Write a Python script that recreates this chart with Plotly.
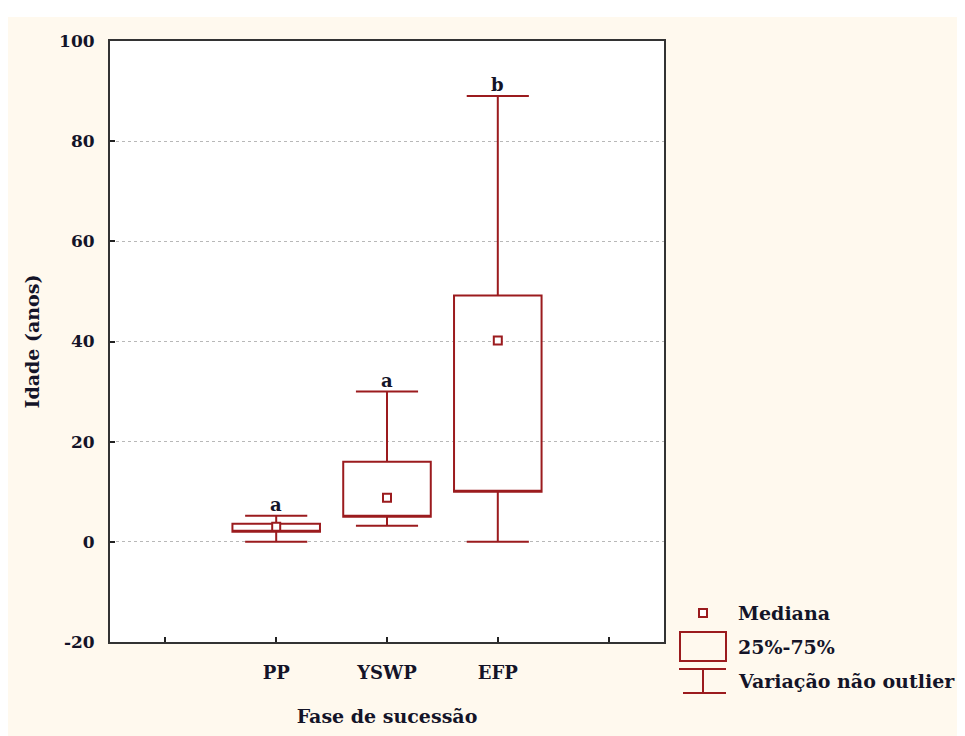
import plotly.graph_objects as go

# ---- data ----
categories = ["PP", "YSWP", "EFP"]
q1_vals = [2.0, 5.0, 10.0]
median_vals = [3.0, 8.8, 40.2]
q3_vals = [3.6, 16.0, 49.2]
lower_vals = [0.0, 3.2, 0.0]
upper_vals = [5.2, 30.0, 89.0]
group_letters = ["a", "a", "b"]
y_ticks = [-20, 0, 20, 40, 60, 80, 100]
y_tick_labels = ["-20", "0", "20", "40", "60", "80", "100"]

RED = "#9B1B1E"
FONT = "DejaVu Serif"
TXT = "#141428"

W, H = 965, 736
OFF = 8  # page body margin offset
# plot area in screen pixels: left 110, right 664, top 41, bottom 642
ML, MT = 110 - OFF, 41 - OFF
MR, MB = W - (664 - OFF), H - (642 - OFF)
PW, PH = W - ML - MR, H - MT - MB

def px(x):
    return (x - OFF - ML) / PW

def py(y):
    return (H - MB - (y - OFF)) / PH

xpos = [i + 1 for i in range(len(categories))]

fig = go.Figure()

# boxes (median line hidden on the q1 edge; median drawn as square marker)
fig.add_trace(go.Box(
    x=xpos, q1=q1_vals, median=q1_vals, q3=q3_vals,
    lowerfence=lower_vals, upperfence=upper_vals,
    width=0.79, whiskerwidth=0.71,
    line=dict(color=RED, width=2), fillcolor="rgba(255,255,255,0)",
    boxpoints=False, showlegend=False, hoverinfo="skip",
))

fig.add_trace(go.Scatter(
    x=xpos, y=median_vals, mode="markers",
    marker=dict(symbol="square", size=8, color="white",
                line=dict(color=RED, width=2)),
    showlegend=False, hoverinfo="skip",
))

# group letters
for xv, yv, t in zip(xpos, upper_vals, group_letters):
    fig.add_annotation(x=xv, y=yv, text=t, showarrow=False, yanchor="bottom",
                       yshift=-1, font=dict(family=FONT, size=18, color=TXT, weight="bold"))

shapes = []
# white strip at the top of the page
shapes.append(dict(type="rect", xref="paper", yref="paper", x0=px(0), x1=px(W + 20),
                   y0=py(17), y1=py(0), fillcolor="white", line=dict(width=0), layer="below"))

# legend glyphs
shapes.append(dict(type="rect", xref="paper", yref="paper", x0=px(699), x1=px(707),
                   y0=py(617), y1=py(609), line=dict(color=RED, width=2), fillcolor="white"))
shapes.append(dict(type="rect", xref="paper", yref="paper", x0=px(680), x1=px(726),
                   y0=py(661), y1=py(632), line=dict(color=RED, width=2), fillcolor="rgba(0,0,0,0)"))
for (x0, y0, x1, y1) in [(679, 669, 726, 669), (703, 669, 703, 693), (683, 693, 726, 693)]:
    shapes.append(dict(type="line", xref="paper", yref="paper", x0=px(x0), x1=px(x1),
                       y0=py(y0), y1=py(y1), line=dict(color=RED, width=2)))

legend_texts = [("Mediana", 613), ("25%-75%", 647), ("Variação não outlier", 681)]
for t, yy in legend_texts:
    fig.add_annotation(xref="paper", yref="paper", x=px(736), y=py(yy), text=t,
                       showarrow=False, xanchor="left", yanchor="middle",
                       font=dict(family=FONT, size=19, color=TXT, weight="bold"))

fig.update_layout(
    width=W, height=H,
    margin=dict(l=ML, r=MR, t=MT, b=MB),
    paper_bgcolor="#FFF9EE", plot_bgcolor="white",
    shapes=shapes,
    font=dict(family=FONT, color=TXT),
)

fig.update_xaxes(
    range=[-0.5, len(categories) + 1.5],
    tickmode="array", tickvals=list(range(len(categories) + 2)),
    ticktext=[""] + categories + [""],
    ticks="inside", ticklen=5, tickwidth=2, tickcolor="#222",
    showline=True, mirror=True, linecolor="#333", linewidth=2,
    showgrid=False, zeroline=False,
    tickfont=dict(family=FONT, size=18, color=TXT, weight="bold"),
    ticklabelstandoff=13,
    title=dict(text="Fase de sucessão", standoff=28,
               font=dict(family=FONT, size=19, color=TXT, weight="bold")),
)
fig.update_yaxes(
    range=[-20, 100], tickmode="array", tickvals=y_ticks, ticktext=y_tick_labels,
    ticks="inside", ticklen=5, tickwidth=2, tickcolor="#222",
    showline=True, mirror=True, linecolor="#333", linewidth=2,
    showgrid=True, gridcolor="#B8B8B8", gridwidth=1, griddash="dot",
    zeroline=False,
    tickfont=dict(family=FONT, size=17, color=TXT, weight="bold"),
    ticklabelstandoff=10,
    title=dict(text="Idade (anos)", standoff=14,
               font=dict(family=FONT, size=19, color=TXT, weight="bold")),
)

fig.write_html("out.html")
